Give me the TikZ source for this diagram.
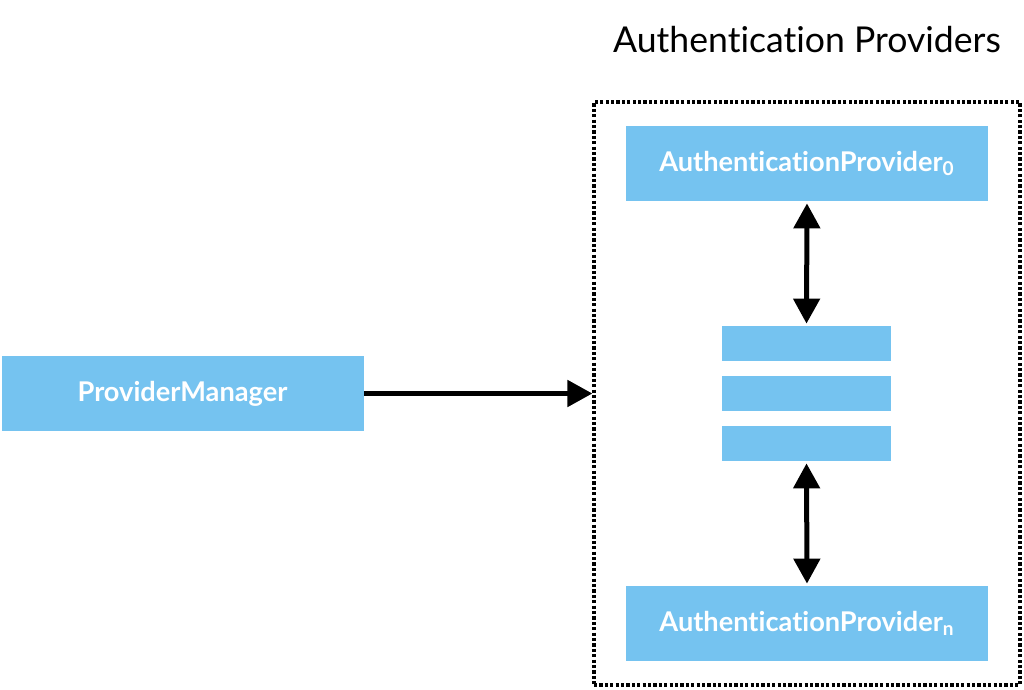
\documentclass[tikz,border=0pt]{standalone}
\usepackage{fontspec}
\setmainfont{Lato}[Ligatures={NoCommon}]
\usepackage{tikz}
\usetikzlibrary{positioning,arrows.meta}
\definecolor{provblue}{HTML}{75C3F0}

\begin{document}
\begin{tikzpicture}[
  x=0.5pt, y=-0.5pt,
  >={Triangle[length=12.5pt,width=13pt]},
  provbox/.style={fill=provblue, draw=none, minimum width=181pt, minimum height=37.5pt,
                  inner sep=0pt, text=white, font=\fontsize{13.6}{15}\selectfont\bfseries},
  stackbox/.style={fill=provblue, draw=none, minimum width=84.5pt, minimum height=17.5pt, inner sep=0pt},
  link/.style={line width=2.5pt}
]
\useasboundingbox (0,0) rectangle (1024,690);

% --- Title ---
\node[font=\fontsize{17.8}{20}\selectfont, anchor=center] (title) at (807,40) {Authentication Providers};

% --- Manager on the left ---
\node[provbox] (pm) at (182.5,393.5) {ProviderManager};

% --- Group of providers ---
\node[draw, line width=1.6pt, dash pattern=on 1.6pt off 1.1pt, minimum width=213pt,
      minimum height=291.5pt, inner sep=0pt] (group) at (807,393.5) {};

\node[provbox] (ap0) at (807,163.5) {AuthenticationProvider\textsubscript{0}};
\node[provbox] (apn) at (807,623.5) {AuthenticationProvider\textsubscript{n}};

% --- The stack in between ---
\node[stackbox] (s1) at (806.5,343.5) {};
\node[stackbox] (s2) at (806.5,393.5) {};
\node[stackbox] (s3) at (806.5,443.5) {};

% --- Arrows ---
\draw[link, ->] (pm.east) -- (group.west);
\draw[link, <->, shorten <=1pt, shorten >=1pt] (ap0.south) -- (s1.north);
\draw[link, <->, shorten <=1pt, shorten >=1pt] (s3.south) -- (apn.north);

\end{tikzpicture}
\end{document}
